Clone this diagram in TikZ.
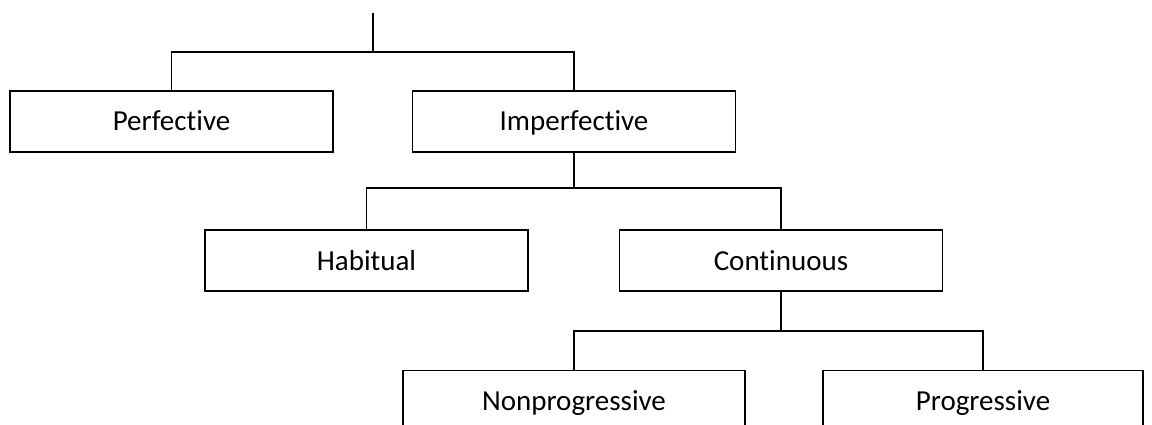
\documentclass[tikz,border=0pt]{standalone}
\usepackage{fontspec}
\setmainfont[Ligatures=NoCommon]{Carlito}
\begin{document}
\begin{tikzpicture}[x=1pt,y=-1pt,
  box/.style={draw=black,line width=1.2pt,rectangle,minimum width=323pt,minimum height=61pt,inner sep=0pt,text height=19pt,text depth=0pt,font=\fontsize{29}{34}\selectfont},
  conn/.style={draw=black,line width=1.2pt}]
\useasboundingbox (0,0) rectangle (1152,425);
\clip (0,0) rectangle (1152,425);
\fill[white] (0,0) rectangle (1152,425);
\coordinate (top) at (373,13);
\node[box] (perf) at (171.5,121.5) {Perfective};
\node[box] (imperf) at (574,121.5) {Imperfective};
\node[box] (hab) at (366.5,260.5) {Habitual};
\node[box] (cont) at (781,260.5) {Continuous};
\node[box,minimum width=342pt] (nonprog) at (574,401) {Nonprogressive};
\node[box,minimum width=320pt] (prog) at (983,401) {Progressive};
\draw[conn] (top) -- (top|-0,52) coordinate (j1);
\draw[conn] (perf.north) |- (j1) -| (imperf.north);
\draw[conn] (imperf.south) -- (imperf.south|-0,188) coordinate (j2);
\draw[conn] (hab.north) |- (j2) -| (cont.north);
\draw[conn] (cont.south) -- (cont.south|-0,331) coordinate (j3);
\draw[conn] (nonprog.north) |- (j3) -| (prog.north);
\end{tikzpicture}
\end{document}
